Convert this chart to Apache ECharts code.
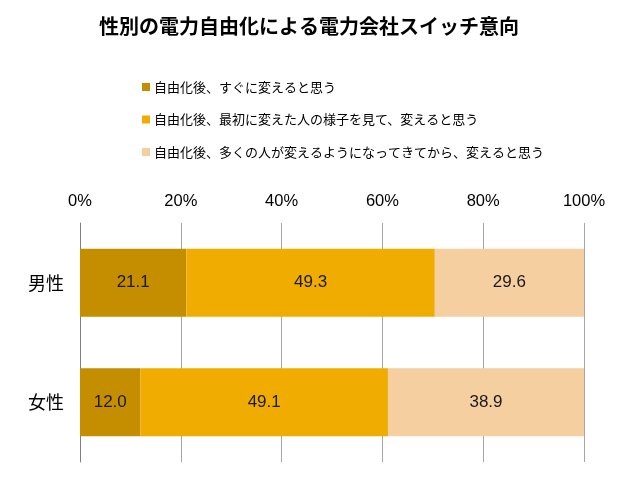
<!DOCTYPE html>
<html><head><meta charset="utf-8">
<script src="https://cdn.jsdelivr.net/npm/echarts@6/dist/echarts.min.js"></script>
<style>html,body{margin:0;padding:0;background:#fff}#c{width:629px;height:485px}</style>
</head><body><div id="c"></div>
<script>
var titleText = '性別の電力自由化による電力会社スイッチ意向';
var categories = ['男性', '女性'];
var seriesNames = ['自由化後、すぐに変えると思う', '自由化後、最初に変えた人の様子を見て、変えると思う', '自由化後、多くの人が変えるようになってきてから、変えると思う'];
var immediately = [21.1, 12.0];
var afterOthers = [49.3, 49.1];
var afterMany = [29.6, 38.9];
var colors = ['#C48E00', '#F0AC00', '#F5CFA0'];
var FONT = '"Liberation Sans", "Noto Sans CJK JP", sans-serif';
var values = [immediately, afterOthers, afterMany];

var chart = echarts.init(document.getElementById('c'));
chart.setOption({
  animation: false,
  backgroundColor: '#fff',
  title: {
    text: titleText, left: 99, top: 16, padding: 0,
    textStyle: {fontSize: 20, fontWeight: 'bold', color: '#000', fontFamily: '"Noto Sans CJK JP", sans-serif'}
  },
  legend: {
    orient: 'vertical', left: 142, top: 79, padding: 0,
    itemWidth: 8, itemHeight: 8, itemGap: 16.5, icon: 'rect',
    data: seriesNames,
    textStyle: {fontSize: 13, lineHeight: 16, color: '#000', fontFamily: '"Noto Sans CJK JP", sans-serif', padding: [0,0,0,-1]}
  },
  grid: {left: 80, right: 45, top: 223, bottom: 23, containLabel: false},
  xAxis: {
    type: 'value', position: 'top', min: 0, max: 100, interval: 20,
    axisLine: {show: false}, axisTick: {show: false},
    axisLabel: {formatter: '{value}%', fontSize: 16.5, color: '#000', margin: 13, fontFamily: FONT},
    splitLine: {show: true, lineStyle: {color: '#a6a6a6', width: 1}}
  },
  yAxis: {
    type: 'category', inverse: true, data: categories,
    axisLine: {show: true, lineStyle: {color: '#808080', width: 1}},
    axisTick: {show: false},
    axisLabel: {fontSize: 18, color: '#000', margin: 16, fontFamily: '"Noto Sans CJK JP", sans-serif'}
  },
  series: seriesNames.map(function (n, i) {
    return {
      name: n, type: 'bar', stack: 'total', barWidth: 68,
      itemStyle: {color: colors[i]},
      label: {show: true, position: 'inside', fontSize: 17, color: '#1a1a1a', fontFamily: FONT,
        formatter: function (p) { return p.value.toFixed(1); }},
      data: values[i]
    };
  })
});
</script></body></html>
